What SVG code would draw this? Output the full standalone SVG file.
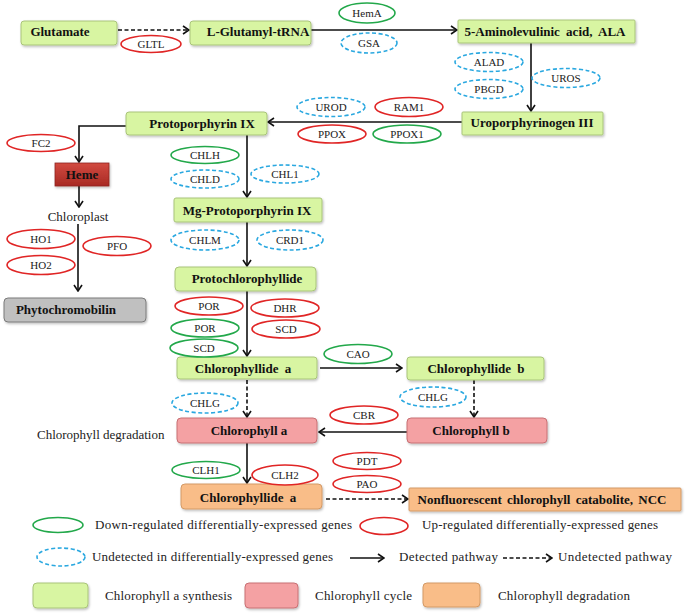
<svg xmlns="http://www.w3.org/2000/svg" width="685" height="613" viewBox="0 0 685 613">
<defs>
<style>
.n{font-family:"Liberation Serif","Times New Roman",serif;font-weight:bold;font-size:13px;fill:#111;text-anchor:middle}
.g{font-family:"Liberation Serif","Times New Roman",serif;font-size:11px;fill:#222;text-anchor:middle}
.t{font-family:"Liberation Serif","Times New Roman",serif;font-size:13px;fill:#222}
.syn{fill:#d8f5a2;stroke:#a9c47a;stroke-width:1}
.cyc{fill:#f4a1a3;stroke:#c87074;stroke-width:1}
.deg{fill:#f9bd88;stroke:#d39a66;stroke-width:1}
.dn{fill:#fff;stroke:#22a84a;stroke-width:1.6}
.up{fill:#fff;stroke:#e02525;stroke-width:1.6}
.ud{fill:#fff;stroke:#2aa8e0;stroke-width:1.6;stroke-dasharray:4 2.5}
.c{fill:none;stroke:#111;stroke-width:1.6}
.d{fill:none;stroke:#111;stroke-width:1.6;stroke-dasharray:4 2.5}
</style>
<marker id="ah" viewBox="0 0 8 10" refX="7" refY="5" markerWidth="8" markerHeight="10" markerUnits="userSpaceOnUse" orient="auto">
<path d="M1,1 L7,5 L1,9" fill="none" stroke="#111" stroke-width="1.6"/>
</marker>
<filter id="sh" x="-10%" y="-20%" width="120%" height="150%">
<feDropShadow dx="1" dy="1.5" stdDeviation="1" flood-color="#000" flood-opacity="0.25"/>
</filter>
<linearGradient id="hemeg" x1="0" y1="0" x2="0" y2="1"><stop offset="0" stop-color="#d24a40"/><stop offset="1" stop-color="#a82a24"/></linearGradient>
</defs>
<rect width="685" height="613" fill="#fff"/>

<g id="connectors">
<path class="d" d="M118,30 H189" marker-end="url(#ah)"/>
<path class="c" d="M311,30 H457" marker-end="url(#ah)"/>
<path class="c" d="M531,43 V111" marker-end="url(#ah)"/>
<path class="c" d="M462,122 H268" marker-end="url(#ah)"/>
<path class="c" d="M126,126 H79 V162" marker-end="url(#ah)"/>
<path class="c" d="M247,135 V197" marker-end="url(#ah)"/>
<path class="c" d="M79,186 V207" marker-end="url(#ah)"/>
<path class="c" d="M78,224 V291" marker-end="url(#ah)"/>
<path class="c" d="M247,222 V266" marker-end="url(#ah)"/>
<path class="c" d="M247,291 V356" marker-end="url(#ah)"/>
<path class="c" d="M320,368 H402" marker-end="url(#ah)"/>
<path class="d" d="M247,380 V417" marker-end="url(#ah)"/>
<path class="d" d="M474,380 V417" marker-end="url(#ah)"/>
<path class="c" d="M407,432 H319" marker-end="url(#ah)"/>
<path class="c" d="M247,443 V483" marker-end="url(#ah)"/>
<path class="d" d="M326,499 H408" marker-end="url(#ah)"/>
</g>

<g id="glutamate"><rect class="syn" x="21" y="21" width="96" height="24" rx="3" filter="url(#sh)"/><text class="n" x="60" y="36">Glutamate</text></g>
<g id="lglutamyl"><rect class="syn" x="190" y="21" width="121" height="24" rx="3" filter="url(#sh)"/><text class="n" x="258" y="36">L-Glutamyl-tRNA</text></g>
<g id="ala"><rect class="syn" x="458" y="20" width="177" height="23" rx="1" filter="url(#sh)"/><text class="n" x="545" y="36" word-spacing="3">5-Aminolevulinic acid, ALA</text></g>
<g id="uro"><rect class="syn" x="462" y="112" width="141" height="23" rx="1" filter="url(#sh)"/><text class="n" x="532" y="127">Uroporphyrinogen III</text></g>
<g id="proto"><rect class="syn" x="126" y="112" width="141" height="23" rx="3" filter="url(#sh)"/><text class="n" x="202" y="128">Protoporphyrin IX</text></g>
<g id="heme"><rect x="55" y="163" width="54" height="23" fill="url(#hemeg)" stroke="#8e2420" stroke-width="0.8" filter="url(#sh)"/><text class="n" x="82" y="179">Heme</text></g>
<g id="chloroplast"><text class="t" x="78" y="221" text-anchor="middle">Chloroplast</text></g>
<g id="mgproto"><rect class="syn" x="174" y="198" width="148" height="24" rx="2" filter="url(#sh)"/><text class="n" x="247" y="215">Mg-Protoporphyrin IX</text></g>
<g id="protochl"><rect class="syn" x="175" y="267" width="141" height="24" rx="4" filter="url(#sh)"/><text class="n" x="247" y="283">Protochlorophyllide</text></g>
<g id="phyto"><rect x="4" y="298" width="142" height="24" rx="4" fill="#c0c0c0" stroke="#7a7a7a" stroke-width="1" filter="url(#sh)"/><text class="n" x="66" y="314">Phytochromobilin</text></g>
<g id="chlidea"><rect class="syn" x="177" y="357" width="140" height="22" rx="3" filter="url(#sh)"/><text class="n" x="243" y="373" word-spacing="3">Chlorophyllide a</text></g>
<g id="chlideb"><rect class="syn" x="407" y="357" width="137" height="23" rx="3" filter="url(#sh)"/><text class="n" x="476" y="373" word-spacing="3">Chlorophyllide b</text></g>
<g id="chla"><rect class="cyc" x="177" y="418" width="140" height="25" rx="4" filter="url(#sh)"/><text class="n" x="249" y="435">Chlorophyll a</text></g>
<g id="chlb"><rect class="cyc" x="407" y="418" width="140" height="25" rx="4" filter="url(#sh)"/><text class="n" x="471" y="435">Chlorophyll b</text></g>
<g id="chlidea2"><rect class="deg" x="181" y="484" width="141" height="25" rx="4" filter="url(#sh)"/><text class="n" x="248" y="502" word-spacing="3">Chlorophyllide a</text></g>
<g id="ncc"><rect class="deg" x="409" y="488" width="272" height="23" rx="1" filter="url(#sh)"/><text class="n" x="542" y="504" word-spacing="2">Nonfluorescent chlorophyll catabolite, NCC</text></g>
<g id="degradation-label"><text class="t" x="37" y="439">Chlorophyll degradation</text></g>

<g id="genes">
<g id="hema"><ellipse class="dn" cx="367" cy="13" rx="28" ry="10"/><text class="g" x="367" y="17">HemA</text></g>
<g id="gsa"><ellipse class="ud" cx="369" cy="43" rx="28" ry="10"/><text class="g" x="369" y="47">GSA</text></g>
<g id="gltl"><ellipse class="up" cx="151" cy="44" rx="30" ry="8.5"/><text class="g" x="151" y="48">GLTL</text></g>
<g id="alad"><ellipse class="ud" cx="489" cy="62" rx="34" ry="9.5"/><text class="g" x="489" y="66">ALAD</text></g>
<g id="pbgd"><ellipse class="ud" cx="489" cy="89" rx="34" ry="9.5"/><text class="g" x="489" y="93">PBGD</text></g>
<g id="uros"><ellipse class="ud" cx="566" cy="78" rx="34" ry="9.5"/><text class="g" x="566" y="82">UROS</text></g>
<g id="urod"><ellipse class="ud" cx="331" cy="107" rx="34" ry="9.5"/><text class="g" x="331" y="111">UROD</text></g>
<g id="ram1"><ellipse class="up" cx="409" cy="107" rx="34" ry="9.5"/><text class="g" x="409" y="111">RAM1</text></g>
<g id="ppox"><ellipse class="up" cx="332" cy="134" rx="34" ry="9"/><text class="g" x="332" y="138">PPOX</text></g>
<g id="ppox1"><ellipse class="dn" cx="407" cy="134" rx="34" ry="9"/><text class="g" x="407" y="138">PPOX1</text></g>
<g id="fc2"><ellipse class="up" cx="41" cy="143" rx="34" ry="8.5"/><text class="g" x="41" y="147">FC2</text></g>
<g id="chlh"><ellipse class="dn" cx="205" cy="155" rx="34" ry="8.5"/><text class="g" x="205" y="159">CHLH</text></g>
<g id="chld"><ellipse class="ud" cx="205" cy="179" rx="34" ry="9"/><text class="g" x="205" y="183">CHLD</text></g>
<g id="chl1"><ellipse class="ud" cx="285" cy="174" rx="34" ry="9"/><text class="g" x="285" y="178">CHL1</text></g>
<g id="ho1"><ellipse class="up" cx="41" cy="239" rx="34" ry="9.5"/><text class="g" x="41" y="243">HO1</text></g>
<g id="ho2"><ellipse class="up" cx="41" cy="265" rx="34" ry="9.5"/><text class="g" x="41" y="269">HO2</text></g>
<g id="pfo"><ellipse class="up" cx="117" cy="246" rx="34" ry="9.5"/><text class="g" x="117" y="250">PFO</text></g>
<g id="chlm"><ellipse class="ud" cx="205" cy="240" rx="34" ry="10"/><text class="g" x="205" y="244">CHLM</text></g>
<g id="crd1"><ellipse class="ud" cx="290" cy="240" rx="33" ry="10"/><text class="g" x="290" y="244">CRD1</text></g>
<g id="por-up"><ellipse class="up" cx="209" cy="306" rx="34" ry="9"/><text class="g" x="209" y="310">POR</text></g>
<g id="dhr"><ellipse class="up" cx="285" cy="308" rx="34" ry="9"/><text class="g" x="285" y="312">DHR</text></g>
<g id="por-dn"><ellipse class="dn" cx="205" cy="328" rx="34" ry="9"/><text class="g" x="205" y="332">POR</text></g>
<g id="scd-up"><ellipse class="up" cx="286" cy="329" rx="34" ry="9"/><text class="g" x="286" y="333">SCD</text></g>
<g id="scd-dn"><ellipse class="dn" cx="204" cy="348" rx="34" ry="9"/><text class="g" x="204" y="352">SCD</text></g>
<g id="cao"><ellipse class="dn" cx="358" cy="354" rx="34" ry="9.5"/><text class="g" x="358" y="358">CAO</text></g>
<g id="chlg1"><ellipse class="ud" cx="205" cy="403" rx="33" ry="10"/><text class="g" x="205" y="407">CHLG</text></g>
<g id="chlg2"><ellipse class="ud" cx="433" cy="397" rx="33" ry="10"/><text class="g" x="433" y="401">CHLG</text></g>
<g id="cbr"><ellipse class="up" cx="364" cy="415" rx="34" ry="9"/><text class="g" x="364" y="419">CBR</text></g>
<g id="clh1"><ellipse class="dn" cx="206" cy="470" rx="34" ry="8.5"/><text class="g" x="206" y="474">CLH1</text></g>
<g id="clh2"><ellipse class="up" cx="285" cy="475" rx="33" ry="10"/><text class="g" x="285" y="479">CLH2</text></g>
<g id="pdt"><ellipse class="up" cx="367" cy="461" rx="34" ry="8.5"/><text class="g" x="367" y="465">PDT</text></g>
<g id="pao"><ellipse class="up" cx="367" cy="484" rx="34" ry="8.5"/><text class="g" x="367" y="488">PAO</text></g>
</g>

<g id="legend">
<ellipse class="dn" cx="58" cy="525" rx="25" ry="7.5"/>
<text class="t" x="95" y="529" textLength="257" lengthAdjust="spacing">Down-regulated differentially-expressed genes</text>
<ellipse class="up" cx="384" cy="526" rx="24" ry="8.5"/>
<text class="t" x="422" y="529" textLength="236" lengthAdjust="spacing">Up-regulated differentially-expressed genes</text>
<ellipse class="ud" cx="61" cy="557" rx="24" ry="9"/>
<text class="t" x="92" y="561" textLength="241" lengthAdjust="spacing">Undetected in differentially-expressed genes</text>
<path class="c" d="M350,558 H384" marker-end="url(#ah)"/>
<text class="t" x="399" y="561" textLength="99" lengthAdjust="spacing">Detected pathway</text>
<path class="d" d="M503,558 H552" marker-end="url(#ah)"/>
<text class="t" x="558" y="561" textLength="114" lengthAdjust="spacing">Undetected pathway</text>
<rect class="syn" x="33" y="583" width="55" height="25" rx="4" filter="url(#sh)"/>
<text class="t" x="105" y="600" textLength="127" lengthAdjust="spacing">Chlorophyll a synthesis</text>
<rect class="cyc" x="245" y="583" width="53" height="25" rx="4" filter="url(#sh)"/>
<text class="t" x="315" y="600" textLength="97" lengthAdjust="spacing">Chlorophyll cycle</text>
<rect class="deg" x="423" y="583" width="57" height="24" rx="4" filter="url(#sh)"/>
<text class="t" x="498" y="600" textLength="132" lengthAdjust="spacing">Chlorophyll degradation</text>
</g>
</svg>
